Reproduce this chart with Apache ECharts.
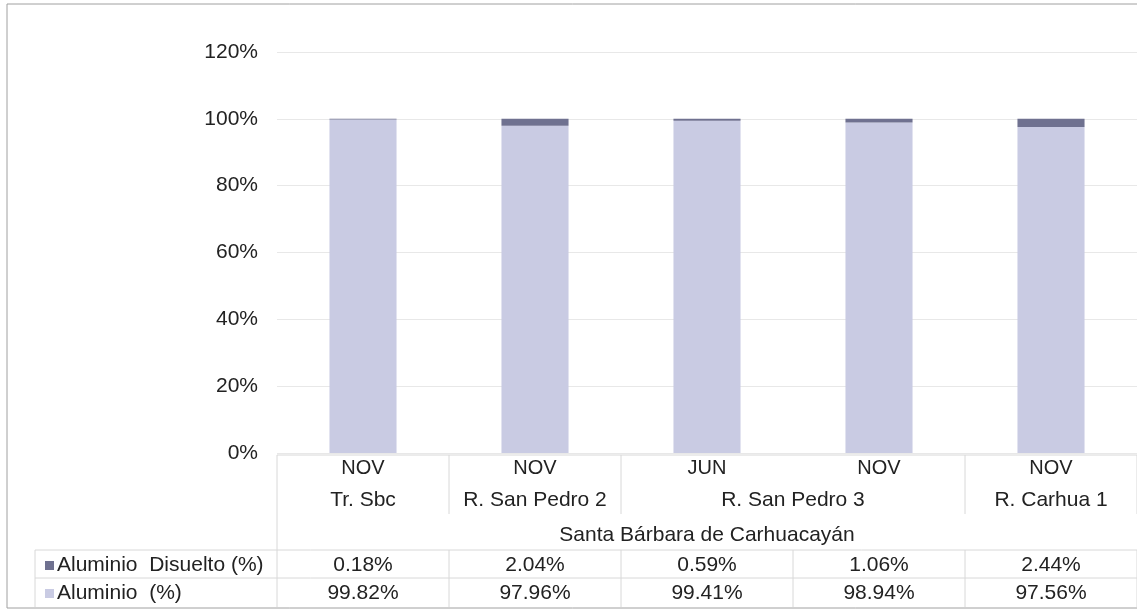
<!DOCTYPE html>
<html>
<head>
<meta charset="utf-8">
<title>Aluminio</title>
<script src="https://cdn.jsdelivr.net/npm/echarts@6/dist/echarts.min.js"></script>
<style>
  html, body { margin: 0; padding: 0; background: #fff; }
  #chart { width: 1137px; height: 616px; }
</style>
</head>
<body>
<div id="chart"></div>
<script>
  // datos
  var months = ['NOV', 'NOV', 'JUN', 'NOV', 'NOV']
  var stations = ['Tr. Sbc', 'R. San Pedro 2', 'R. San Pedro 3', 'R. San Pedro 3', 'R. Carhua 1']
  var groupName = 'Santa Bárbara de Carhuacayán'
  var aluminio = [99.82, 97.96, 99.41, 98.94, 97.56]
  var disuelto = [0.18, 2.04, 0.59, 1.06, 2.44]
  var yTicks = [0, 20, 40, 60, 80, 100, 120]
  var seriesNames = ['Aluminio  Disuelto (%)', 'Aluminio  (%)']

  var FONT = 'Liberation Sans, Arial, sans-serif'
  var colorLight = '#c9cbe3'
  var colorDark = '#6f7190'
  var lineColor = '#d8d8d8'

  var chart = echarts.init(document.getElementById('chart'))

  chart.setOption({
    animation: false,
    grid: {
      left: 277,
      top: 52,
      width: 865,
      height: 401
    },
    xAxis: {
      type: 'category',
      data: months,
      axisLine: { show: false },
      axisTick: { show: false },
      axisLabel: {
        margin: 5,
        fontFamily: FONT,
        fontSize: 20,
        color: '#222'
      }
    },
    yAxis: {
      type: 'value',
      min: yTicks[0],
      max: yTicks[yTicks.length - 1],
      interval: 20,
      axisLine: { show: false },
      axisTick: { show: false },
      axisLabel: {
        margin: 19,
        fontFamily: FONT,
        fontSize: 21,
        color: '#222',
        formatter: '{value}%'
      },
      splitLine: {
        lineStyle: { color: '#e8e8e8', width: 1 }
      }
    },
    series: [
      {
        name: seriesNames[1],
        type: 'bar',
        stack: 'total',
        barWidth: '39%',
        itemStyle: { color: colorLight },
        data: aluminio
      },
      {
        name: seriesNames[0],
        type: 'bar',
        stack: 'total',
        barWidth: '39%',
        itemStyle: { color: colorDark },
        data: disuelto
      }
    ]
  })

  // tabla de datos debajo del eje
  function buildTable() {
    var half = (chart.convertToPixel({ xAxisIndex: 0 }, 1) - chart.convertToPixel({ xAxisIndex: 0 }, 0)) / 2
    var cx = months.map(function (m, i) { return chart.convertToPixel({ xAxisIndex: 0 }, i) })
    var left = cx[0] - half
    var right = cx[cx.length - 1] + half
    var rowTop = 550, rowMid = 578, rowBot = 607, headTop = 455, headBot = 514
    var els = []
    var line = function (x1, y1, x2, y2, c) {
      els.push({ type: 'line', shape: { x1: x1, y1: y1, x2: x2, y2: y2 }, style: { stroke: c || lineColor, lineWidth: 1 }, silent: true })
    }
    var text = function (x, y, s, align) {
      els.push({ type: 'text', x: x, y: y, style: { text: s, font: '21px ' + FONT, fill: '#222', align: align || 'center', verticalAlign: 'middle' }, silent: true })
    }

    // marco exterior
    els.push({ type: 'rect', shape: { x: 7, y: 4, width: 1160, height: 604 }, style: { fill: null, stroke: '#a0a0a0', lineWidth: 1 }, silent: true })

    line(left, headTop, right, headTop)
    line(left, headTop, left, rowBot)
    line(35, rowTop, right, rowTop)
    line(35, rowMid, right, rowMid)
    line(35, rowTop, 35, rowBot)

    // estaciones agrupadas
    var start = 0
    for (var i = 1; i <= stations.length; i++) {
      if (i === stations.length || stations[i] !== stations[start]) {
        var x0 = cx[start] - half, x1 = cx[i - 1] + half
        text((x0 + x1) / 2, 500, stations[start])
        line(x1, headTop, x1, headBot)
        start = i
      }
    }
    text((left + right) / 2, 535, groupName)

    // filas de valores
    for (var j = 0; j < months.length; j++) {
      line(cx[j] + half, rowTop, cx[j] + half, rowBot)
      text(cx[j], 565, disuelto[j].toFixed(2) + '%')
      text(cx[j], 593, aluminio[j].toFixed(2) + '%')
    }

    // encabezados con clave de color
    els.push({ type: 'rect', shape: { x: 45, y: 561, width: 9, height: 9 }, style: { fill: colorDark }, silent: true })
    els.push({ type: 'rect', shape: { x: 45, y: 589, width: 9, height: 9 }, style: { fill: colorLight }, silent: true })
    text(57, 565, seriesNames[0], 'left')
    text(57, 593, seriesNames[1], 'left')

    chart.setOption({ graphic: { elements: els } })
  }
  buildTable()
</script>
</body>
</html>
